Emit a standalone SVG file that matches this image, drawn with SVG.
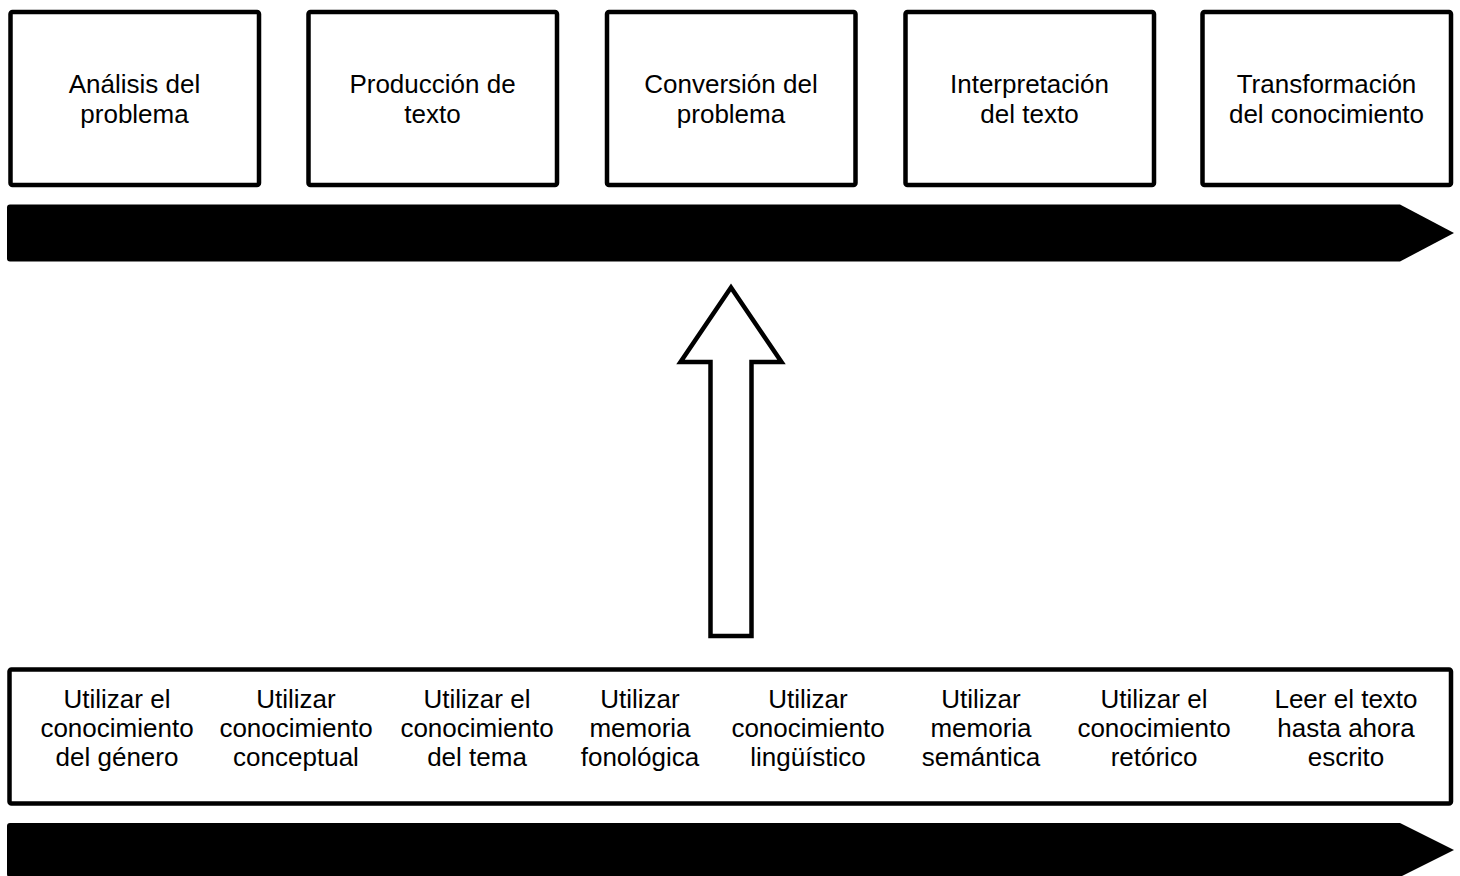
<svg xmlns="http://www.w3.org/2000/svg" width="1460" height="876" viewBox="0 0 1460 876">
  <style>
    .box { fill: #ffffff; stroke: #000000; stroke-width: 4.5; }
    .band { fill: #000000; stroke: none; }
    .hollow { fill: #ffffff; stroke: #000000; stroke-width: 4.5; stroke-linejoin: miter; }
    text { font-family: "Liberation Sans", Arial, sans-serif; font-size: 26px; fill: #000000; text-anchor: middle; }
  </style>
  <rect width="1460" height="876" fill="#ffffff"/>

  <!-- top row of stages -->
  <g id="stage-analisis">
    <rect class="box" x="10.5" y="12" width="248.5" height="173" rx="2"/>
    <text x="134.5" y="93">Análisis del</text>
    <text x="134.5" y="123">problema</text>
  </g>
  <g id="stage-produccion">
    <rect class="box" x="308.5" y="12" width="248.5" height="173" rx="2"/>
    <text x="432.5" y="93">Producción de</text>
    <text x="432.5" y="123">texto</text>
  </g>
  <g id="stage-conversion">
    <rect class="box" x="607" y="12" width="248.5" height="173" rx="2"/>
    <text x="731" y="93">Conversión del</text>
    <text x="731" y="123">problema</text>
  </g>
  <g id="stage-interpretacion">
    <rect class="box" x="905.5" y="12" width="248.5" height="173" rx="2"/>
    <text x="1029.5" y="93">Interpretación</text>
    <text x="1029.5" y="123">del texto</text>
  </g>
  <g id="stage-transformacion">
    <rect class="box" x="1202.5" y="12" width="248.5" height="173" rx="2"/>
    <text x="1326.5" y="93">Transformación</text>
    <text x="1326.5" y="123">del conocimiento</text>
  </g>

  <!-- bottom panel of resources -->
  <g id="resources">
    <rect class="box" x="9.5" y="669.5" width="1441.5" height="134" rx="2"/>
    <text x="117" y="708">Utilizar el</text>
    <text x="117" y="737">conocimiento</text>
    <text x="117" y="766">del género</text>

    <text x="296" y="708">Utilizar</text>
    <text x="296" y="737">conocimiento</text>
    <text x="296" y="766">conceptual</text>

    <text x="477" y="708">Utilizar el</text>
    <text x="477" y="737">conocimiento</text>
    <text x="477" y="766">del tema</text>

    <text x="640" y="708">Utilizar</text>
    <text x="640" y="737">memoria</text>
    <text x="640" y="766">fonológica</text>

    <text x="808" y="708">Utilizar</text>
    <text x="808" y="737">conocimiento</text>
    <text x="808" y="766">lingüístico</text>

    <text x="981" y="708">Utilizar</text>
    <text x="981" y="737">memoria</text>
    <text x="981" y="766">semántica</text>

    <text x="1154" y="708">Utilizar el</text>
    <text x="1154" y="737">conocimiento</text>
    <text x="1154" y="766">retórico</text>

    <text x="1346" y="708">Leer el texto</text>
    <text x="1346" y="737">hasta ahora</text>
    <text x="1346" y="766">escrito</text>
  </g>

  <!-- connectors: timeline bands and the upward hollow arrow -->
  <g id="connectors">
    <path class="band" d="M10,204.5 H1400 L1454,233 L1400,261.5 H10 Q7,261.5 7,258.5 V207.5 Q7,204.5 10,204.5 Z"/>
    <path class="band" d="M10,823 H1400 L1454,850 L1400,877 H10 Q7,877 7,874 V826 Q7,823 10,823 Z"/>
    <path class="hollow" d="M731,287.5 L781.5,362 H751.5 V636 H710.5 V362 H680.5 Z"/>
  </g>
</svg>
